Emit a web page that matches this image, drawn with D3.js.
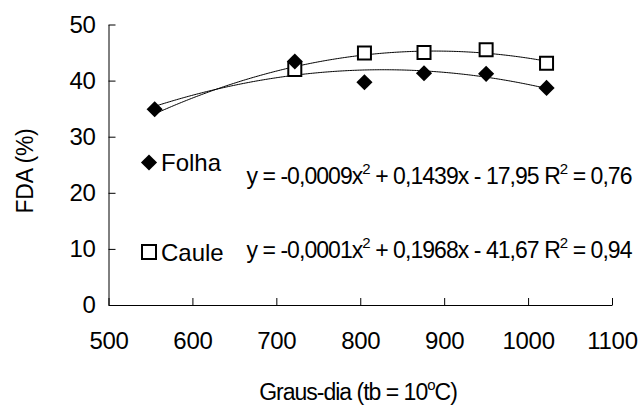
<!DOCTYPE html>
<html>
<head>
<meta charset="utf-8">
<style>
       body {
              margin: 0;
              background: #fff;
       }
       svg {
              font-family: "Liberation Sans", Arial, sans-serif;
       }
       .axis text {
              font-size: 24px;
              letter-spacing: -0.3px;
              fill: #000;
       }
       .axis path, .axis line {
              stroke: #000;
              stroke-width: 1px;
       }
       .legend {
              font-size: 24px;
              fill: #000;
       }
       .equation {
              font-size: 23px;
              letter-spacing: -0.95px;
              fill: #000;
       }
       .title {
              font-size: 23px;
              letter-spacing: -1px;
              fill: #000;
       }
       .fit {
              fill: none;
              stroke: #000;
              stroke-width: 1px;
       }
</style>
</head>
<body>
<script src="https://cdn.jsdelivr.net/npm/d3@7"></script>
<script>

     // graus-dia acumulados (x) e FDA (%) de folha e caule
     var grausDia = [555, 722, 805, 876, 950, 1022],
         folha = [34.9, 43.4, 39.7, 41.3, 41.2, 38.7],
         caule = [34.2, 42.0, 44.9, 45.0, 45.5, 43.1],
         xTicks = [500, 600, 700, 800, 900, 1000, 1100],
         yTicks = [0, 10, 20, 30, 40, 50],
         seriesNames = ["Folha", "Caule"],
         equations = [
              ["y = -0,0009x", "2", " + 0,1439x - 17,95 R", "2", " = 0,76"],
              ["y = -0,0001x", "2", " + 0,1968x - 41,67 R", "2", " = 0,94"]
         ];

     var width = 639,
         height = 414,
         plotLeft = 108.5,
         plotRight = 612,
         plotTop = 24.5,
         plotBottom = 305;

     var x = d3.scaleLinear().domain([500, 1100]).range([plotLeft, plotRight]),
         y = d3.scaleLinear().domain([0, 50]).range([plotBottom, plotTop]);

     var svg = d3.select("body").append("svg")
          .attr("width", width)
          .attr("height", height);

     svg.append("g")
          .attr("class", "axis")
          .attr("transform", "translate(0," + plotBottom + ")")
          .call(d3.axisBottom(x).tickValues(xTicks).tickFormat(d3.format("d"))
                .tickSizeInner(-7).tickSizeOuter(0).tickPadding(26.5));

     svg.append("g")
          .attr("class", "axis")
          .attr("transform", "translate(" + plotLeft + ",0)")
          .call(d3.axisLeft(y).tickValues(yTicks).tickFormat(d3.format("d"))
                .tickSizeInner(-7).tickSizeOuter(0).tickPadding(13));

     svg.selectAll(".axis").attr("font-size", null).attr("font-family", null);

     // ajuste polinomial de 2a ordem (minimos quadrados), como a linha de tendencia
     function quadFit(xs, ys) {
          var s = [0, 0, 0, 0, 0], t = [0, 0, 0];
          xs.forEach(function(xv, i) {
               var u = (xv - 800) / 100;
               for (var k = 0; k < 5; k++) s[k] += Math.pow(u, k);
               for (var k = 0; k < 3; k++) t[k] += ys[i] * Math.pow(u, k);
          });
          var m = [[s[0], s[1], s[2], t[0]], [s[1], s[2], s[3], t[1]], [s[2], s[3], s[4], t[2]]];
          for (var i = 0; i < 3; i++) {
               for (var j = i + 1; j < 3; j++) {
                    var f = m[j][i] / m[i][i];
                    for (var k = i; k < 4; k++) m[j][k] -= f * m[i][k];
               }
          }
          var c = [0, 0, 0];
          for (var i = 2; i >= 0; i--) {
               var v = m[i][3];
               for (var k = i + 1; k < 3; k++) v -= m[i][k] * c[k];
               c[i] = v / m[i][i];
          }
          return function(xv) { var u = (xv - 800) / 100; return c[0] + c[1] * u + c[2] * u * u; };
     }

     var line = d3.line()
          .x(function(d) { return x(d[0]); })
          .y(function(d) { return y(d[1]); });

     [folha, caule].forEach(function(vals) {
          var f = quadFit(grausDia, vals),
              xs = d3.range(grausDia[0], grausDia[grausDia.length - 1] + 0.1, 2);
          svg.append("path")
               .attr("class", "fit")
               .attr("d", line(xs.map(function(v) { return [v, f(v)]; })));
     });

     var diamond = d3.symbol().type(d3.symbolSquare).size(130),
         square = d3.symbol().type(d3.symbolSquare).size(169);

     // o primeiro ponto do caule fica escondido sob o losango da folha
     svg.append("g").selectAll("path")
          .data(grausDia.map(function(d, i) { return [d, caule[i]]; }).slice(1))
       .enter().append("path")
          .attr("d", square)
          .attr("transform", function(d) { return "translate(" + x(d[0]) + "," + y(d[1]) + ")"; })
          .attr("fill", "#fff")
          .attr("stroke", "#000")
          .attr("stroke-width", 2);

     svg.append("g").selectAll("path")
          .data(grausDia.map(function(d, i) { return [d, folha[i]]; }))
       .enter().append("path")
          .attr("d", diamond)
          .attr("transform", function(d) { return "translate(" + x(d[0]) + "," + y(d[1]) + ") rotate(45)"; })
          .attr("fill", "#000");

     // legenda
     svg.append("path")
          .attr("d", diamond)
          .attr("transform", "translate(149,162.5) rotate(45)")
          .attr("fill", "#000");

     svg.append("path")
          .attr("d", d3.symbol().type(d3.symbolSquare).size(196))
          .attr("transform", "translate(149,252)")
          .attr("fill", "#fff")
          .attr("stroke", "#000")
          .attr("stroke-width", 2);

     svg.append("text").attr("class", "legend").attr("x", 161).attr("y", 171).text(seriesNames[0]);
     svg.append("text").attr("class", "legend").attr("x", 161).attr("y", 261).text(seriesNames[1]);

     // equacoes
     [184, 258].forEach(function(by, i) {
          var t = svg.append("text").attr("class", "equation").attr("x", 246.5).attr("y", by),
              parts = equations[i];
          parts.forEach(function(p, k) {
               var sup = parts[k] === "2";
               t.append("tspan")
                    .attr("dy", sup ? -10 : (k > 0 ? 10 : 0))
                    .style("font-size", sup ? "15px" : null)
                    .text(p);
          });
     });

     // titulos dos eixos
     svg.append("text")
          .attr("class", "title")
          .style("letter-spacing", "-0.3px")
          .attr("transform", "translate(33,171) rotate(-90)")
          .attr("text-anchor", "middle")
          .text("FDA (%)");

     var xt = svg.append("text")
          .attr("class", "title")
          .attr("x", 358)
          .attr("y", 400)
          .attr("text-anchor", "middle");
     xt.append("tspan").text("Graus-dia (tb = 10");
     xt.append("tspan").attr("dy", -10).style("font-size", "15px").text("o");
     xt.append("tspan").attr("dy", 10).text("C)");

</script>
</body>
</html>
